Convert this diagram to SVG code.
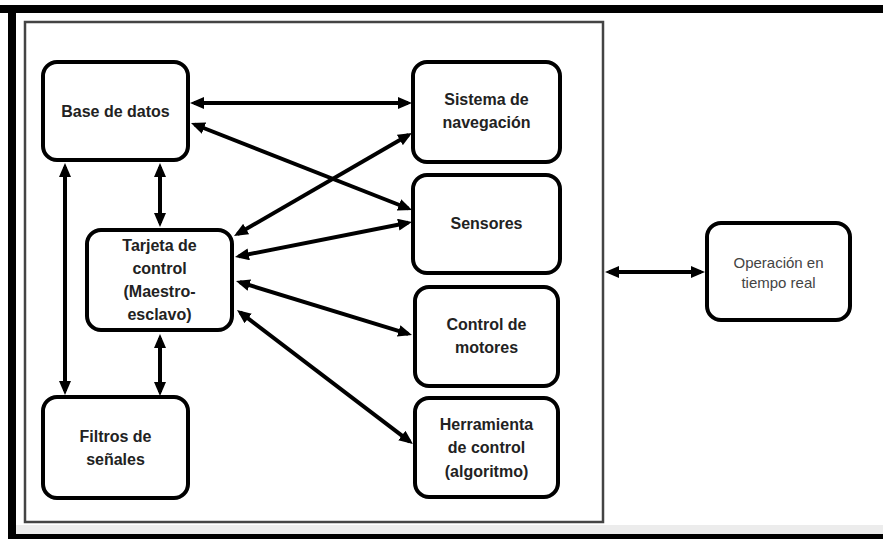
<svg xmlns="http://www.w3.org/2000/svg" width="883" height="539" viewBox="0 0 883 539">
<style>
.node rect{fill:#fff;stroke:#000;stroke-width:4}
.t{font-family:"Liberation Sans",Arial,sans-serif;font-weight:bold;font-size:16px;fill:#222;text-anchor:middle}
.tn{font-family:"Liberation Sans",Arial,sans-serif;font-size:15px;fill:#444;text-anchor:middle}
.c path{fill:none;stroke:#000;stroke-width:4;marker-start:url(#ah);marker-end:url(#ah)}
</style>
<defs>
<marker id="ah" markerUnits="userSpaceOnUse" viewBox="0 0 14 12" refX="10" refY="6" markerWidth="14" markerHeight="12" orient="auto-start-reverse">
<path d="M0,0 L14,6 L0,12 z" fill="#000"/>
</marker>
</defs>
<rect x="0" y="0" width="883" height="539" fill="#fff"/>
<rect x="16" y="525" width="867" height="9" fill="#ececec"/>
<rect x="0" y="5" width="883" height="8" fill="#000"/>
<rect x="8" y="5" width="8" height="534" fill="#000"/>
<rect x="8" y="534" width="875" height="5" fill="#000"/>
<rect x="25" y="22" width="578" height="500" fill="none" stroke="#444" stroke-width="2.5"/>
<g id="base-de-datos" class="node"><rect x="43" y="62" width="145" height="98" rx="14"/><text class="t" x="115.5" y="117">Base de datos</text></g>
<g id="tarjeta" class="node"><rect x="87" y="230" width="145" height="100" rx="14"/><text class="t" x="159.5" y="251">Tarjeta de</text><text class="t" x="159.5" y="274">control</text><text class="t" x="159.5" y="297">(Maestro-</text><text class="t" x="159.5" y="320">esclavo)</text></g>
<g id="filtros" class="node"><rect x="43" y="397" width="145" height="101" rx="14"/><text class="t" x="115.5" y="442">Filtros de</text><text class="t" x="115.5" y="465">señales</text></g>
<g id="navegacion" class="node"><rect x="413" y="62" width="147" height="100" rx="14"/><text class="t" x="486.5" y="105">Sistema de</text><text class="t" x="486.5" y="128">navegación</text></g>
<g id="sensores" class="node"><rect x="413" y="175" width="147" height="98" rx="14"/><text class="t" x="486.5" y="229">Sensores</text></g>
<g id="motores" class="node"><rect x="415" y="287" width="143" height="99" rx="14"/><text class="t" x="486.5" y="330">Control de</text><text class="t" x="486.5" y="353">motores</text></g>
<g id="herramienta" class="node"><rect x="415" y="398" width="143" height="99" rx="14"/><text class="t" x="486.5" y="430">Herramienta</text><text class="t" x="486.5" y="453">de control</text><text class="t" x="486.5" y="477">(algoritmo)</text></g>
<g id="operacion" class="node"><rect x="707" y="223" width="143" height="97" rx="14"/><text class="tn" x="778.5" y="268">Operación en</text><text class="tn" x="778.5" y="288">tiempo real</text></g>
<g id="connectors" class="c">
<path d="M194,103 L408,103"/>
<path d="M194.7,124.5 L408.3,208.5"/>
<path d="M237.5,234 L408.5,135"/>
<path d="M238.9,256.2 L408.1,222.8"/>
<path d="M239.8,282.2 L408.2,333.8"/>
<path d="M240.2,312.4 L409.8,441.6"/>
<path d="M160,167 L160,223"/>
<path d="M160,338 L160,392"/>
<path d="M65,167 L65,391"/>
<path d="M609,272 L701,272"/>
</g>
</svg>
